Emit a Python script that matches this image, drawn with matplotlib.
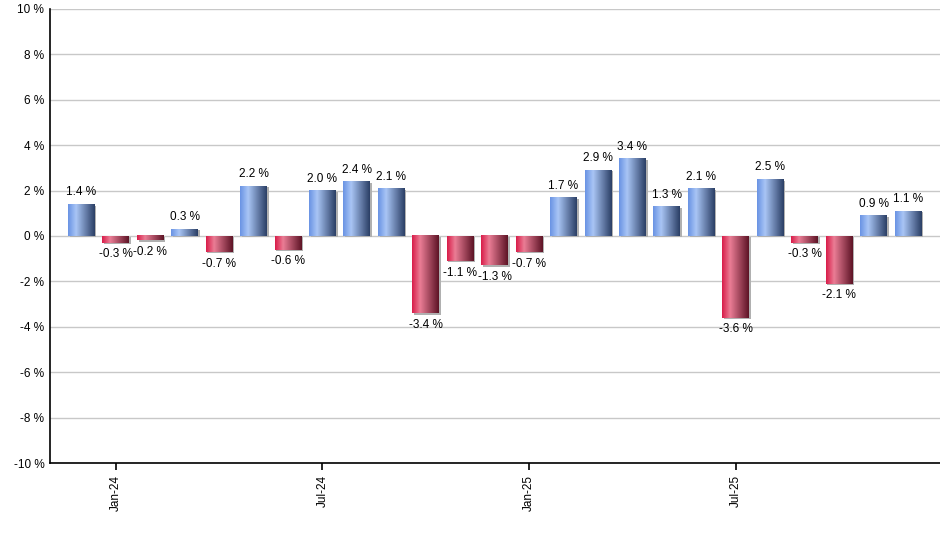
import matplotlib as mpl
mpl.use('Agg')
import matplotlib.pyplot as plt
import numpy as np
from matplotlib.colors import LinearSegmentedColormap
from matplotlib.patches import Rectangle

plt.rcParams['font.family'] = ['Liberation Sans', 'DejaVu Sans']

months = ['Dec-23', 'Jan-24', 'Feb-24', 'Mar-24', 'Apr-24', 'May-24', 'Jun-24',
          'Jul-24', 'Aug-24', 'Sep-24', 'Oct-24', 'Nov-24', 'Dec-24', 'Jan-25',
          'Feb-25', 'Mar-25', 'Apr-25', 'May-25', 'Jun-25', 'Jul-25', 'Aug-25',
          'Sep-25', 'Oct-25', 'Nov-25', 'Dec-25']
returns = [1.4, -0.3, -0.2, 0.3, -0.7, 2.2, -0.6, 2.0, 2.4, 2.1, -3.4, -1.1,
           -1.3, -0.7, 1.7, 2.9, 3.4, 1.3, 2.1, -3.6, 2.5, -0.3, -2.1, 0.9, 1.1]
tick_months = ['Jan-24', 'Jul-24', 'Jan-25', 'Jul-25']

blue_cmap = LinearSegmentedColormap.from_list(
    'blue', [(0, '#6a94e4'), (0.3, '#a9c5f5'), (1, '#2b3f66')])
red_cmap = LinearSegmentedColormap.from_list(
    'red', [(0, '#d91d4a'), (0.3, '#ea7d95'), (1, '#5e1426')])
grad = np.linspace(0, 1, 64).reshape(1, -1)

fig = plt.figure(figsize=(9.4, 5.5), dpi=100)
ax = fig.add_axes([0.053, 0.158, 0.947, 0.826])

x = np.arange(len(months))
width = 0.78
bars = ax.bar(x, returns, width=width, color='none', zorder=3)

for xi, v, b in zip(x, returns, bars):
    cmap = blue_cmap if v >= 0 else red_cmap
    x0 = xi - width / 2
    # small shadow
    ax.add_patch(Rectangle((x0 + 0.05, min(0, v) - 0.06), width, abs(v),
                           facecolor='#b0b0b0', edgecolor='none', zorder=2))
    ax.imshow(grad, cmap=cmap, aspect='auto', zorder=3,
              extent=(x0, x0 + width, min(0, v), max(0, v)))
    if v >= 0:
        ax.text(xi, v + 0.25, f'{v:.1f} %', ha='center', va='bottom', fontsize=8.5)
    else:
        ax.text(xi, v - 0.25, f'{v:.1f} %', ha='center', va='top', fontsize=8.5)

ax.set_xlim(-0.915, 24.93)
ax.set_ylim(-10, 10)
ax.set_yticks(range(-10, 11, 2))
ax.set_yticklabels([f'{t} %' for t in range(-10, 11, 2)], fontsize=8.5)
ax.set_xticks([months.index(m) for m in tick_months])
ax.set_xticklabels(tick_months, rotation=90, fontsize=8.5)
ax.tick_params(axis='y', length=0, pad=4)
ax.tick_params(axis='x', length=5, width=1.2, direction='out')

ax.grid(axis='y', color='#c8c8c8', linewidth=1, zorder=0)
ax.set_axisbelow(True)
for s in ['top', 'right']:
    ax.spines[s].set_visible(False)
ax.spines['left'].set_linewidth(1.2)
ax.spines['bottom'].set_linewidth(1.2)

fig.savefig('out.png', dpi=100)
